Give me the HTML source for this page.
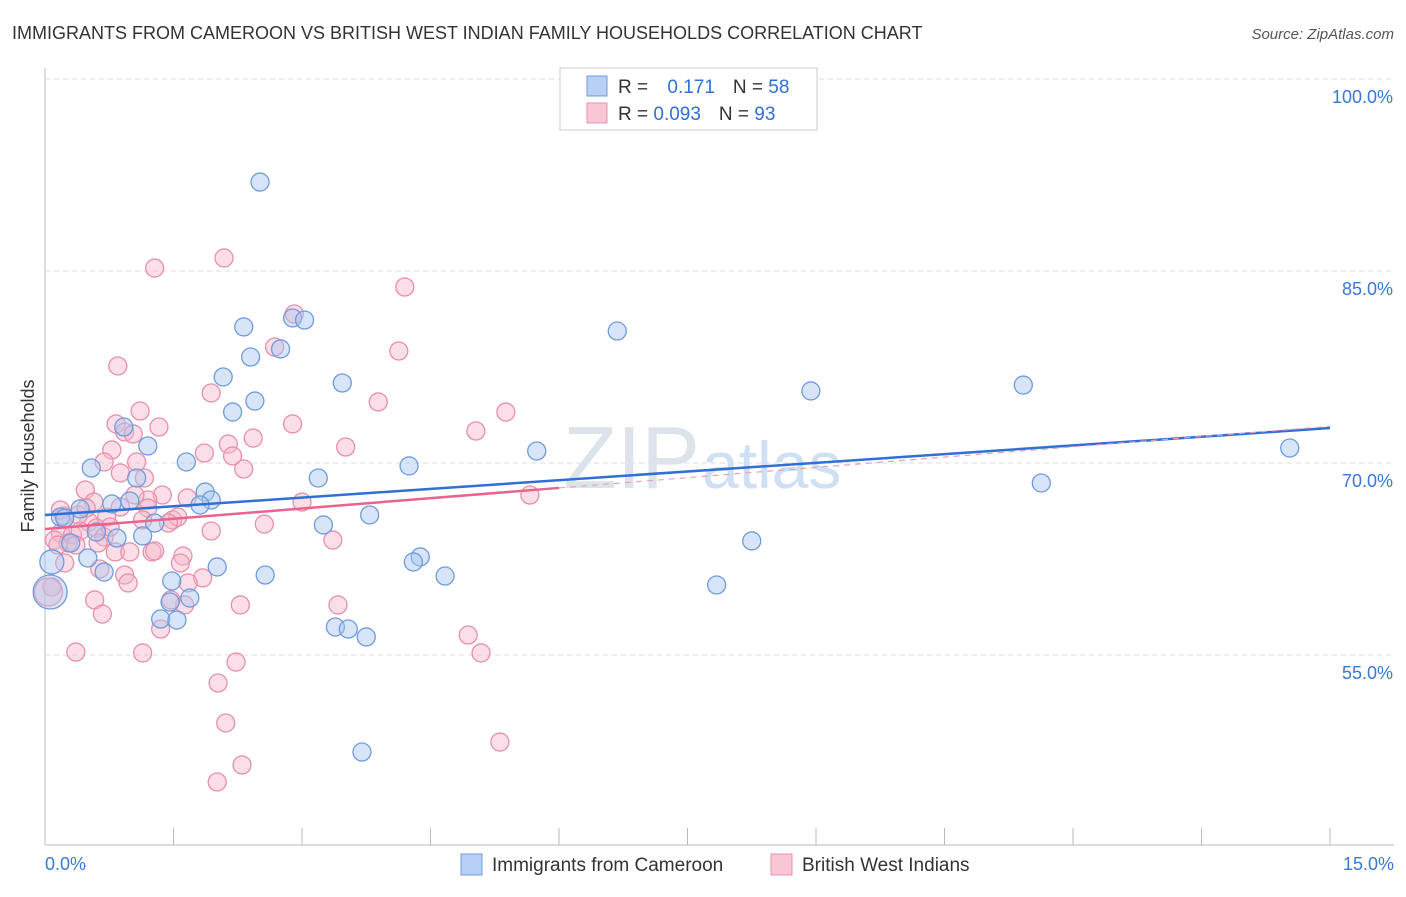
<!DOCTYPE html>
<html><head><meta charset="utf-8"><style>
body{margin:0;background:#fff;font-family:"Liberation Sans",sans-serif}
svg text{font-family:"Liberation Sans",sans-serif}
</style></head><body>
<svg id="chart" width="1406" height="892">
<text x="12" y="39" font-size="18" fill="#333">IMMIGRANTS FROM CAMEROON VS BRITISH WEST INDIAN FAMILY HOUSEHOLDS CORRELATION CHART</text>
<text x="1394" y="39" font-size="15" fill="#555" font-style="italic" text-anchor="end">Source: ZipAtlas.com</text>
<text x="34" y="456" font-size="18" fill="#333" text-anchor="middle" transform="rotate(-90 34 456)">Family Households</text>
<g id="grid"></g>
<text x="700" y="488" font-size="88" fill="#dde3ea" text-anchor="end" font-family="Liberation Serif">ZIP</text>
<text x="702" y="488" font-size="66" fill="#cfe0f4">atlas</text>
<g id="pts"></g>
<g id="lines"></g>
<g>
<rect x="560" y="68" width="257" height="62" fill="#fff" stroke="#ccc"/>
<rect x="587" y="76" width="20" height="20" fill="#b8d0f3" stroke="#6f9be0"/>
<rect x="587" y="103" width="20" height="20" fill="#f8c6d5" stroke="#e890aa"/>
<text x="618" y="93" font-size="19" fill="#333">R = <tspan fill="#2f6fd6" dx="14">0.171</tspan><tspan dx="18" fill="#333">N = </tspan><tspan fill="#2f6fd6">58</tspan></text>
<text x="618" y="120" font-size="19" fill="#333">R = <tspan fill="#2f6fd6">0.093</tspan><tspan dx="18" fill="#333">N = </tspan><tspan fill="#2f6fd6">93</tspan></text>
</g>
<g>
<rect x="461" y="854" width="21" height="21" fill="#b8d0f3" stroke="#6f9be0"/>
<text x="492" y="871" font-size="19" fill="#333">Immigrants from Cameroon</text>
<rect x="771" y="854" width="21" height="21" fill="#f8c6d5" stroke="#e890aa"/>
<text x="802" y="871" font-size="19" fill="#333">British West Indians</text>
</g>
</svg>
<script>
const yTicks=[55,70,85,100];
const yTickLabels=["55.0%","70.0%","85.0%","100.0%"];
const xTickLabels=["0.0%","15.0%"];
const blueX=[2.51,2.32,2.89,3.03,6.68,2.40,2.75,2.08,3.47,8.94,11.42,2.45,2.19,0.92,1.20,5.74,14.53,1.65,4.25,0.54,3.19,1.07,11.63,1.87,1.94,0.78,1.81,0.99,0.41,0.18,0.23,3.79,1.28,3.25,0.60,1.14,0.84,0.30,8.25,4.38,4.30,0.50,0.08,2.01,2.57,0.69,4.67,1.48,7.84,1.69,1.46,0.06,1.35,1.54,3.39,3.54,3.75,3.70];
const blueY=[91.95,80.63,81.33,81.17,80.31,78.28,78.91,76.72,76.25,75.63,76.09,74.84,73.98,72.81,71.33,70.94,71.17,70.08,69.77,69.61,68.83,68.83,68.44,67.73,67.11,66.80,66.72,67.03,66.41,65.78,65.70,65.94,65.31,65.16,64.61,64.30,64.14,63.75,63.91,62.66,62.27,62.58,62.27,61.88,61.25,61.48,61.17,60.78,60.47,59.45,59.14,59.92,57.81,57.73,57.19,57.03,56.41,47.42];
const pinkX=[2.09,1.28,4.20,2.91,2.68,4.13,0.85,1.94,3.89,5.38,1.11,0.83,2.89,1.33,0.93,1.03,5.03,2.43,3.51,2.14,1.86,2.19,0.78,0.69,1.07,2.32,0.88,1.16,0.47,3.00,1.37,1.66,1.20,5.66,0.57,1.20,1.49,1.55,1.44,2.56,0.22,0.51,0.72,0.18,0.32,0.41,1.94,0.60,0.69,0.11,0.27,0.36,3.36,0.82,0.99,1.25,1.28,1.61,1.58,0.64,0.93,1.84,1.67,0.97,0.08,0.04,2.28,0.58,3.42,1.63,0.67,1.47,1.35,4.94,0.36,1.14,5.09,2.23,2.02,2.11,5.31,2.30,2.01,0.39,0.23,0.15,0.76,0.48,1.14,0.88,0.62,1.05,0.18];
const pinkY=[86.02,85.23,83.75,81.64,79.06,78.75,77.58,75.47,74.77,73.98,74.06,73.05,73.05,72.81,72.42,72.27,72.50,71.95,71.25,71.48,70.78,70.55,71.02,70.08,70.08,69.53,69.22,68.83,67.89,66.95,67.50,67.27,67.11,67.50,66.95,66.48,65.55,65.78,65.31,65.23,65.86,65.39,65.78,64.53,64.38,64.69,64.69,64.92,64.22,63.98,63.75,63.59,63.98,63.05,63.05,63.05,63.13,62.73,62.19,61.72,61.25,61.02,60.63,60.63,60.31,59.92,58.91,59.30,58.91,58.91,58.20,59.30,57.03,56.56,55.23,55.16,55.16,54.45,52.81,49.69,48.20,46.41,45.08,65.94,62.19,63.59,65.00,66.48,65.55,66.56,63.75,67.50,66.33];
const blueTrend=[65.94,72.73];
const pinkTrend=[64.84,72.87];
const pinkSolidEnd=6;

const X0=45,X1=1330,xMax=15;
const sx=v=>X0+(X1-X0)*v/xMax;
const sy=v=>463-(v-70)*12.8;
const NS="http://www.w3.org/2000/svg";
function mk(tag,attrs,parent){const e=document.createElementNS(NS,tag);for(const k in attrs)e.setAttribute(k,attrs[k]);parent.appendChild(e);return e;}
const grid=document.getElementById('grid');
const ax=mk('line',{x1:45,y1:68,x2:45,y2:845,stroke:'#bbb'},grid);


const bx=mk('line',{x1:45,y1:845,x2:1394,y2:845,stroke:'#bbb'},grid);


yTicks.forEach((t,i)=>{
 const g=mk('line',{x1:45,y1:sy(t),x2:1394,y2:sy(t),stroke:'#ddd','stroke-dasharray':'5 4'},grid);
 
 
 const l=mk('text',{x:1393,y:sy(t)+24,'font-size':18,fill:'#3a78d4','text-anchor':'end'},grid);
 l.textContent=yTickLabels[i];
 
 
});
for(let i=0;i<=10;i++){
 const t=mk('line',{x1:sx(i*1.5),y1:828,x2:sx(i*1.5),y2:845,stroke:'#bbb'},grid);
 
 
}
[[0,'start',45],[15,'end',1394]].forEach((d,i)=>{
 const l=mk('text',{x:d[2],y:870,'font-size':18,fill:'#3a78d4','text-anchor':d[1]},grid);
 l.textContent=xTickLabels[i];
 
 
});
const pts=document.getElementById('pts');
function dot(x,y,r,fill,stroke,name){
 const c=mk('circle',{cx:sx(x),cy:sy(y),r:r,fill:fill,'fill-opacity':0.45,stroke:stroke,'stroke-width':1.3},pts);
 
 
}
pinkX.forEach((x,i)=>dot(x,pinkY[i],(i===65)?14:9,'#f6b5c9','#e890aa','bwi-point'));
blueX.forEach((x,i)=>dot(x,blueY[i],(i===51)?17:(i===42?12:9),'#a9c6f0','#6f9be0','cameroon-point'));
const lines=document.getElementById('lines');
const bl=mk('line',{x1:sx(0),y1:sy(blueTrend[0]),x2:sx(15),y2:sy(blueTrend[1]),stroke:'#2f6fd6','stroke-width':2.5},lines);


const pm=pinkTrend[0]+(pinkTrend[1]-pinkTrend[0])*pinkSolidEnd/15;
const pl=mk('line',{x1:sx(0),y1:sy(pinkTrend[0]),x2:sx(pinkSolidEnd),y2:sy(pm),stroke:'#e8648f','stroke-width':2.5},lines);


const pd=mk('line',{x1:sx(pinkSolidEnd),y1:sy(pm),x2:sx(15),y2:sy(pinkTrend[1]),stroke:'#e8a0b8','stroke-width':1.2,'stroke-dasharray':'6 5'},lines);


</script>
</body></html>
